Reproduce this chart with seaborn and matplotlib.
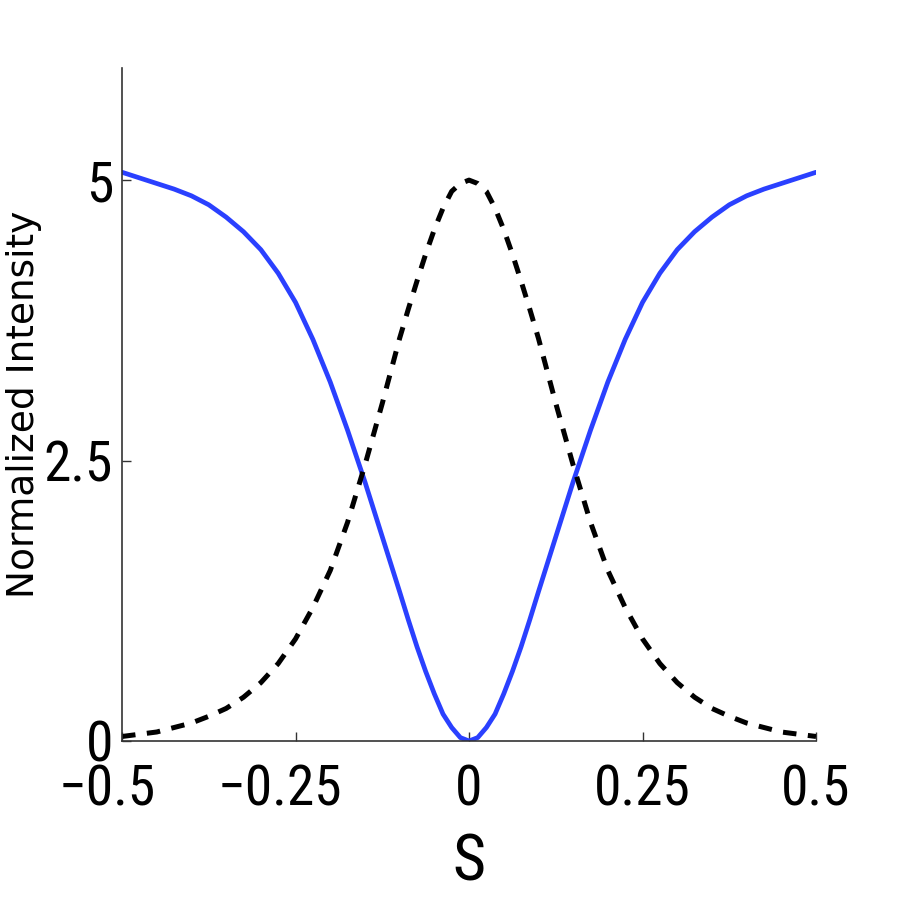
import pandas as pd
import matplotlib
matplotlib.use("Agg")
import matplotlib.pyplot as plt
import matplotlib.transforms as mtransforms
import seaborn as sns

# values
s_vals = [-0.5, -0.475, -0.45, -0.425, -0.4, -0.375, -0.35, -0.325, -0.3, -0.275,
          -0.25, -0.225, -0.2, -0.175, -0.15, -0.125, -0.1, -0.0875, -0.075, -0.0625,
          -0.05, -0.0375, -0.025, -0.0125, 0.0,
          0.0125, 0.025, 0.0375, 0.05, 0.0625, 0.075, 0.0875, 0.1, 0.125, 0.15,
          0.175, 0.2, 0.225, 0.25, 0.275, 0.3, 0.325, 0.35, 0.375, 0.4,
          0.425, 0.45, 0.475, 0.5]

blue_vals = [5.07, 5.02, 4.97, 4.92, 4.86, 4.78, 4.67, 4.54, 4.38, 4.17,
             3.91, 3.58, 3.20, 2.77, 2.31, 1.82, 1.33, 1.08, 0.84, 0.62,
             0.42, 0.24, 0.12, 0.03, 0.0,
             0.03, 0.12, 0.24, 0.42, 0.62, 0.84, 1.08, 1.33, 1.82, 2.31,
             2.77, 3.20, 3.58, 3.91, 4.17, 4.38, 4.54, 4.67, 4.78, 4.86,
             4.92, 4.97, 5.02, 5.07]

dash_vals = [0.04, 0.06, 0.08, 0.12, 0.16, 0.22, 0.29, 0.39, 0.52, 0.69,
             0.91, 1.19, 1.52, 1.95, 2.46, 3.01, 3.59, 3.85, 4.10, 4.34,
             4.56, 4.75, 4.90, 4.97, 5.0,
             4.97, 4.90, 4.75, 4.56, 4.34, 4.10, 3.85, 3.59, 3.01, 2.46,
             1.95, 1.52, 1.19, 0.91, 0.69, 0.52, 0.39, 0.29, 0.22, 0.16,
             0.12, 0.08, 0.06, 0.04]

x_ticks = [-0.5, -0.25, 0, 0.25, 0.5]
x_tick_labels = ["\u22120.5", "\u22120.25", "0", "0.25", "0.5"]
y_ticks = [0, 2.5, 5]
y_tick_labels = ["0", "2.5", "5"]

df = pd.DataFrame({"s": s_vals, "blue": blue_vals, "dash": dash_vals})

sns.set_style("white")
plt.rcParams["font.family"] = ["DejaVu Sans"]
plt.rcParams["text.color"] = "black"
plt.rcParams["axes.labelcolor"] = "black"
plt.rcParams["xtick.color"] = "black"
plt.rcParams["ytick.color"] = "black"

fig = plt.figure(figsize=(9, 9), dpi=100)
ax = fig.add_axes([0.1356, 0.1767, 0.7711, 0.7478])

sns.lineplot(data=df, x="s", y="blue", ax=ax, color="#2a40ff", linewidth=3.4)
sns.lineplot(data=df, x="s", y="dash", ax=ax, color="black", linewidth=3.6,
             linestyle=(0, (2.7, 2.3)))

ax.set_xlim(-0.5, 0.5)
ax.set_ylim(0, 6)

narrow = ["Roboto Condensed", "DejaVu Sans"]
ax.set_xticks(x_ticks)
ax.set_xticklabels(x_tick_labels, family=narrow, fontsize=40)
ax.set_yticks(y_ticks)
ax.set_yticklabels(y_tick_labels, family=narrow, fontsize=40)
ax.tick_params(axis="both", direction="in", length=6.5, width=1.0, color="#333333",
               left=True, bottom=True)
ax.tick_params(axis="x", pad=16)
ax.tick_params(axis="y", pad=6.5)

# negative labels sit centred on the digits, the minus hangs out to the left
shift = mtransforms.ScaledTranslation(-11 / 72, 0, fig.dpi_scale_trans)
for lbl in ax.get_xticklabels():
    if lbl.get_text().startswith("\u2212"):
        lbl.set_transform(lbl.get_transform() + shift)

ax.set_xlabel("S", family=narrow, fontsize=46)
ax.xaxis.set_label_coords(0.5, -0.135)
ax.set_ylabel("Normalized Intensity", fontsize=27)
ax.yaxis.set_label_coords(-0.115, 0.5)

sns.despine(ax=ax)
for side in ["left", "bottom"]:
    ax.spines[side].set_color("#333333")
    ax.spines[side].set_linewidth(1.2)

fig.savefig("out.png", dpi=100, facecolor="white")
